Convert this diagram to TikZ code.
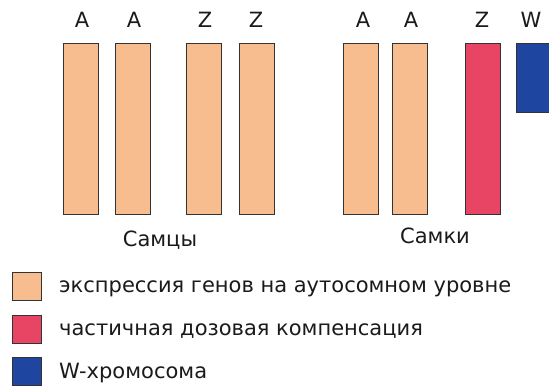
\documentclass[tikz,border=0pt]{standalone}
\usepackage{fontspec}
\setmainfont{DejaVu Sans}
\definecolor{peach}{HTML}{F7BD8F}
\definecolor{rosered}{HTML}{E84464}
\definecolor{wblue}{HTML}{1E45A0}
\definecolor{edge}{HTML}{333333}
\definecolor{txt}{HTML}{1A1A1A}
\begin{document}
\begin{tikzpicture}[x=1pt,y=-1pt,
  chrom/.style={draw=edge,line width=1.3pt,minimum width=35pt,minimum height=171pt,inner sep=0pt,anchor=north west},
  lab/.style={text=txt,font=\fontsize{21}{25}\selectfont,anchor=base,inner sep=0pt},
  sq/.style={draw=edge,line width=1.3pt,minimum width=29pt,minimum height=28pt,inner sep=0pt,anchor=north west},
  leg/.style={text=txt,font=\fontsize{21}{25}\selectfont,anchor=base west,inner sep=0pt}]
\clip (0,0) rectangle (549,389);
\useasboundingbox (0,0) rectangle (549,389);
% males
\node[chrom,fill=peach] (m1) at (63,43) {};
\node[chrom,fill=peach] (m2) at (115,43) {};
\node[chrom,fill=peach] (m3) at (186,43) {};
\node[chrom,fill=peach] (m4) at (238.5,43) {};
% females
\node[chrom,fill=peach] (f1) at (343,43) {};
\node[chrom,fill=peach] (f2) at (392,43) {};
\node[chrom,fill=rosered] (f3) at (464.5,43) {};
\node[draw=edge,line width=1.3pt,fill=wblue,minimum width=40pt,minimum height=69pt,inner sep=0pt,anchor=north west] (f4) at (516,43) {};
% labels
\node[lab] (lm1) at (82,27) {A};
\node[lab] (lm2) at (134,27) {A};
\node[lab] (lm3) at (205,27) {Z};
\node[lab] (lm4) at (256,27) {Z};
\node[lab] (lf1) at (363,27) {A};
\node[lab] (lf2) at (411,27) {A};
\node[lab] (lf3) at (482,27) {Z};
\node[lab] (lf4) at (531,27) {W};
\node[lab] (males) at (160,246) {Самцы};
\node[lab] (females) at (435,243) {Самки};
% legend
\node[sq,fill=peach] (s1) at (12,272) {};
\node[sq,fill=rosered] (s2) at (12,314.5) {};
\node[sq,fill=wblue] (s3) at (12,357) {};
\node[leg] (t1) at (59,292) {экспрессия генов на аутосомном уровне};
\node[leg] (t2) at (59,335) {частичная дозовая компенсация};
\node[leg] (t3) at (59,378) {W-хромосома};
\end{tikzpicture}
\end{document}
